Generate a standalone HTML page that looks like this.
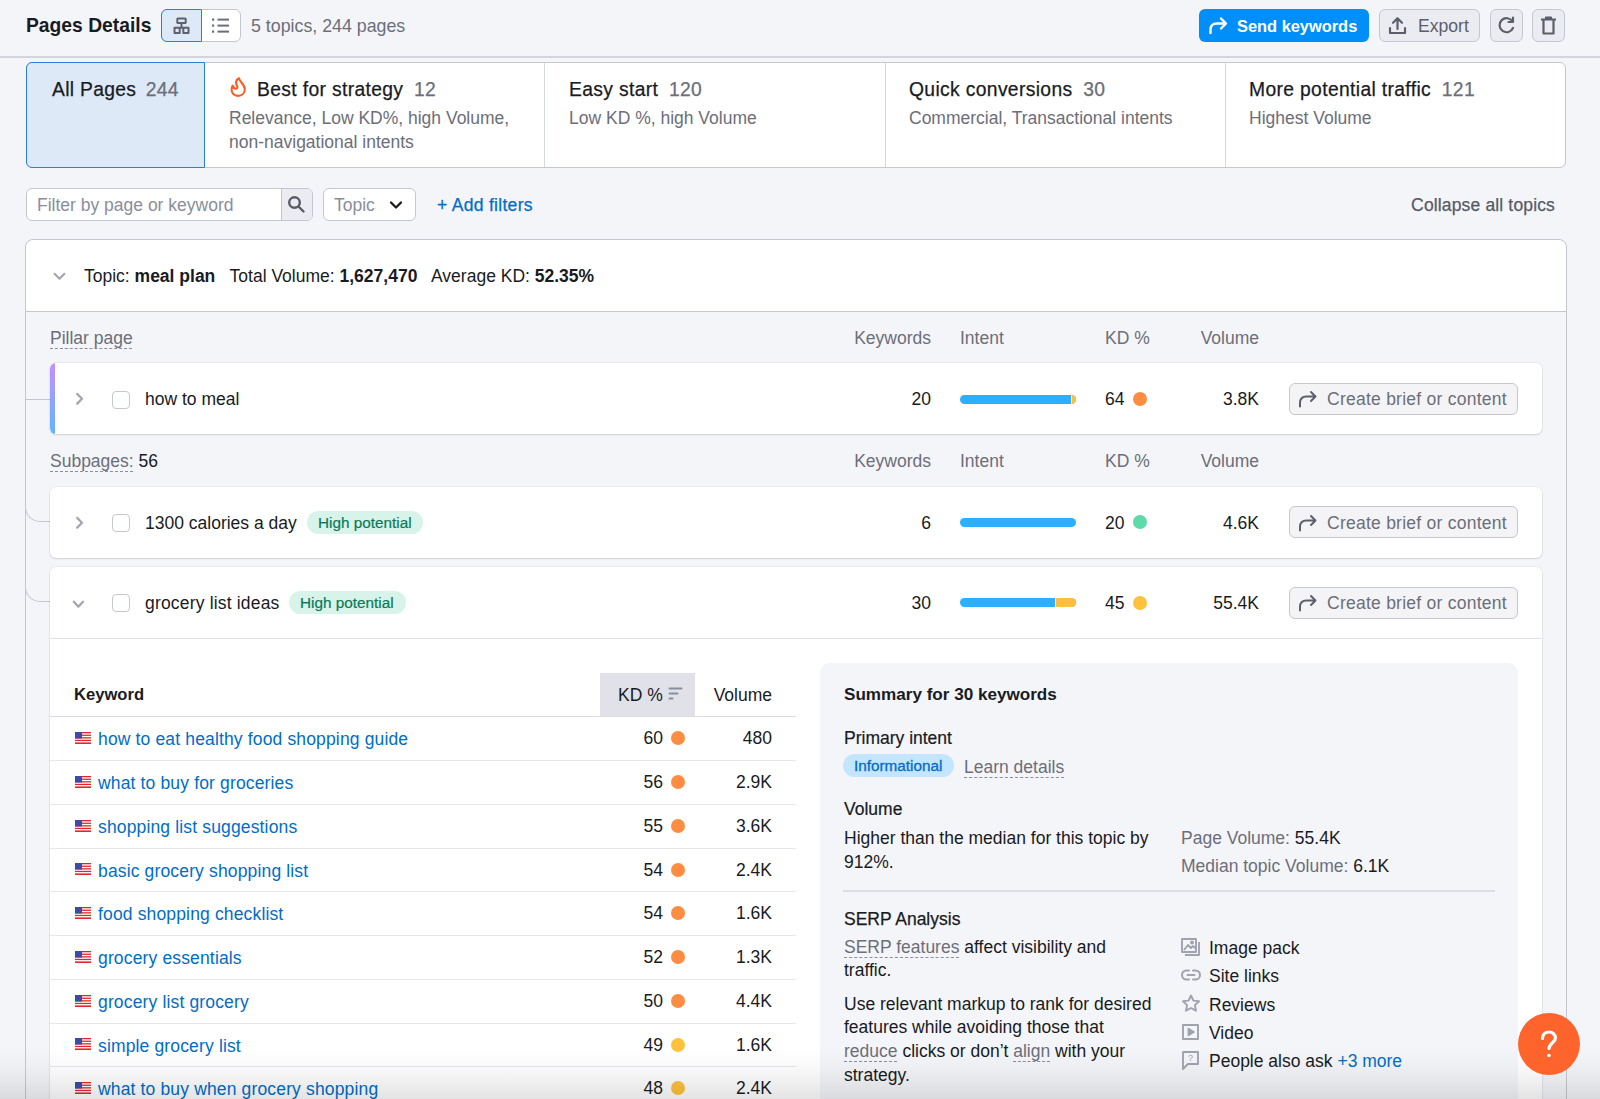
<!DOCTYPE html>
<html><head><meta charset="utf-8">
<style>
*{box-sizing:border-box;margin:0;padding:0}
html,body{width:1600px;height:1099px;overflow:hidden}
body{background:#f4f5f9;font-family:"Liberation Sans",sans-serif;color:#191b23;position:relative;font-size:17.5px}
.a{position:absolute}
.nw{white-space:nowrap}
.g{color:#6c6e79}
.b{font-weight:bold}
.med{-webkit-text-stroke:0.25px currentColor}
.btn{position:absolute;border:1px solid #c4c7cf;background:#ebecf1;border-radius:6px}
.dash{text-decoration:underline dashed #8a8e9b;text-underline-offset:4px;text-decoration-thickness:1px}
.card{position:absolute;left:50px;width:1492px;background:#fff;border-radius:6px;box-shadow:0 1px 2px rgba(25,27,35,.12),0 0 0 1px rgba(25,27,35,.04)}
.chk{position:absolute;width:18px;height:18px;border:1px solid #c4c7cf;border-radius:4px;background:#fff}
.num{position:absolute;text-align:right;white-space:nowrap}
.dot{position:absolute;width:14px;height:14px;border-radius:50%}
.cbtn{position:absolute;left:1289px;width:229px;height:32px;border:1px solid #c4c7cf;background:#f4f4f7;border-radius:6px;color:#6c6e79}
.hp{position:absolute;height:23px;border-radius:12px;background:#d7f3ea;color:#0b7a58;font-size:15.3px;line-height:23px;padding:0 0 0 11px;white-space:nowrap;-webkit-text-stroke:.2px #0b7a58}
.bar{position:absolute;left:960px;width:116px;height:9px;border-radius:5px;overflow:hidden;background:#2bb0ff}
.kw{position:absolute;left:98px;color:#006dca;white-space:nowrap;letter-spacing:.15px}
.flag{position:absolute;left:75px;width:16px;height:12px}.flag svg{display:block}
.rowline{position:absolute;left:50px;width:746px;height:1px;background:#e6e7ed}
</style></head>
<body>

<!-- HEADER -->
<div class="a nw b" style="left:26px;top:10px;font-size:19.3px;line-height:32px">Pages Details</div>

<div class="a" style="left:161px;top:9px;width:80px;height:33px;border:1px solid #c4c7cf;border-radius:6px;background:#fff"></div>
<div class="a" style="left:161px;top:9px;width:41px;height:33px;border:1px solid #2b7fd8;border-radius:6px 0 0 6px;background:#dee9f7"></div>

<div class="a nw g" style="left:251px;top:14px;font-size:17.8px;line-height:24px">5 topics, 244 pages</div>

<div class="a" style="left:1199px;top:9px;width:170px;height:33px;background:#008ff8;border-radius:6px"></div>
<div class="a nw b" style="left:1237px;top:14px;font-size:16.4px;line-height:24px;color:#fff">Send keywords</div>

<div class="btn" style="left:1379px;top:9px;width:101px;height:33px"></div>
<div class="a nw g" style="left:1418px;top:14px;font-size:17.6px;line-height:24px;color:#5c5f6b">Export</div>
<div class="btn" style="left:1490px;top:9px;width:33px;height:33px"></div>
<div class="btn" style="left:1532px;top:9px;width:33px;height:33px"></div>

<div class="a" style="left:0;top:56px;width:1600px;height:2px;background:#d3d4dc"></div>

<!-- TABS -->
<div class="a" style="left:26px;top:62px;width:1540px;height:106px;background:#fff;border:1px solid #c4c7cf;border-radius:6px"></div>
<div class="a" style="left:26px;top:62px;width:179px;height:106px;background:#dee9f7;border:1px solid #2b7fd8;border-radius:6px 0 0 6px"></div>
<div class="a" style="left:544px;top:63px;width:1px;height:104px;background:#d6d8df"></div>
<div class="a" style="left:885px;top:63px;width:1px;height:104px;background:#d6d8df"></div>
<div class="a" style="left:1225px;top:63px;width:1px;height:104px;background:#d6d8df"></div>

<div class="a nw med" style="left:52px;top:77px;font-size:19.3px;line-height:26px;letter-spacing:.3px">All Pages <span class="g" style="margin-left:4px">244</span></div>
<div class="a nw med" style="left:257px;top:77px;font-size:19.3px;line-height:26px;letter-spacing:.35px">Best for strategy <span class="g" style="margin-left:5px">12</span></div>
<div class="a g" style="left:229px;top:106px;font-size:17.5px;line-height:24px;width:300px">Relevance, Low KD%, high Volume, non-navigational intents</div>
<div class="a nw med" style="left:569px;top:77px;font-size:19.3px;line-height:26px;letter-spacing:.35px">Easy start <span class="g" style="margin-left:5px">120</span></div>
<div class="a nw g" style="left:569px;top:106px;font-size:17.5px;line-height:24px">Low KD %, high Volume</div>
<div class="a nw med" style="left:909px;top:77px;font-size:19.3px;line-height:26px;letter-spacing:.35px">Quick conversions <span class="g" style="margin-left:5px">30</span></div>
<div class="a nw g" style="left:909px;top:106px;font-size:17.5px;line-height:24px">Commercial, Transactional intents</div>
<div class="a nw med" style="left:1249px;top:77px;font-size:19.3px;line-height:26px;letter-spacing:.35px">More potential traffic <span class="g" style="margin-left:5px">121</span></div>
<div class="a nw g" style="left:1249px;top:106px;font-size:17.5px;line-height:24px">Highest Volume</div>

<!-- FILTERS -->
<div class="a" style="left:26px;top:188px;width:287px;height:33px;background:#fff;border:1px solid #c4c7cf;border-radius:6px;overflow:hidden">
  <div class="a" style="left:254px;top:0;width:33px;height:31px;background:#ebecf1;border-left:1px solid #c4c7cf"></div>
</div>
<div class="a nw" style="left:37px;top:193px;font-size:17.5px;line-height:24px;color:#8a8e9b">Filter by page or keyword</div>
<div class="a" style="left:323px;top:188px;width:93px;height:33px;background:#fff;border:1px solid #c4c7cf;border-radius:6px"></div>
<div class="a nw" style="left:334px;top:193px;font-size:17.5px;line-height:24px;color:#8a8e9b">Topic</div>
<div class="a nw med" style="left:437px;top:193px;font-size:17.5px;line-height:24px;color:#006dca;letter-spacing:.3px">+ Add filters</div>
<div class="a nw med" style="right:45px;top:193px;font-size:17.5px;line-height:24px;color:#575a66;letter-spacing:.15px">Collapse all topics</div>

<!-- TOPIC PANEL -->
<div class="a" style="left:25px;top:239px;width:1542px;height:900px;background:#f4f5f9;border:1px solid #c4c7cf;border-radius:8px"></div>
<div class="a" style="left:26px;top:240px;width:1540px;height:72px;background:#fff;border-bottom:1px solid #c4c7cf;border-radius:8px 8px 0 0"></div>
<div class="a nw" style="left:84px;top:264px;font-size:17.5px;line-height:24px">Topic: <b>meal plan</b>&nbsp;&nbsp; Total Volume: <b>1,627,470</b>&nbsp;&nbsp; Average KD: <b>52.35%</b></div>

<!-- PILLAR -->
<div class="a nw g" style="left:50px;top:326px;font-size:17.5px;line-height:24px"><span class="dash">Pillar page</span></div>
<div class="num g" style="right:669px;top:326px;line-height:24px">Keywords</div>
<div class="a nw g" style="left:960px;top:326px;line-height:24px">Intent</div>
<div class="a nw g" style="left:1105px;top:326px;line-height:24px">KD %</div>
<div class="num g" style="right:341px;top:326px;line-height:24px">Volume</div>

<div class="a" style="left:26px;top:399px;width:24px;height:1px;background:#c4c7cf"></div>
<div class="card" style="top:363px;height:71px;border-radius:6px;overflow:hidden">
  <div class="a" style="left:0;top:0;width:5px;height:71px;background:linear-gradient(#c490ff,#5fb4ff)"></div>
</div>
<div class="chk" style="left:112px;top:391px"></div>
<div class="a nw" style="left:145px;top:387px;line-height:24px">how to meal</div>
<div class="num" style="right:669px;top:387px;line-height:24px">20</div>
<div class="bar" style="top:395px"><div class="a" style="left:111px;top:0;width:5px;height:9px;background:#ffbf3d;border-left:1px solid #fff"></div></div>
<div class="a nw" style="left:1105px;top:387px;line-height:24px">64</div>
<div class="dot" style="left:1133px;top:392px;background:#ff8c43"></div>
<div class="num" style="right:341px;top:387px;line-height:24px">3.8K</div>
<div class="cbtn" style="top:383px"></div>
<div class="a nw" style="left:1327px;top:387px;line-height:24px;color:#6c6e79;letter-spacing:.25px">Create brief or content</div>

<!-- SUBPAGES -->
<div class="a nw" style="left:50px;top:449px;line-height:24px"><span class="dash g">Subpages:</span> 56</div>
<div class="num g" style="right:669px;top:449px;line-height:24px">Keywords</div>
<div class="a nw g" style="left:960px;top:449px;line-height:24px">Intent</div>
<div class="a nw g" style="left:1105px;top:449px;line-height:24px">KD %</div>
<div class="num g" style="right:341px;top:449px;line-height:24px">Volume</div>

<div class="a" style="left:25px;top:500px;width:25px;height:22px;border-left:1px solid #c4c7cf;border-bottom:1px solid #c4c7cf;border-bottom-left-radius:15px"></div>
<div class="a" style="left:25px;top:580px;width:25px;height:22px;border-left:1px solid #c4c7cf;border-bottom:1px solid #c4c7cf;border-bottom-left-radius:15px"></div>

<div class="card" style="top:487px;height:71px"></div>
<div class="chk" style="left:112px;top:514px"></div>
<div class="a nw" style="left:145px;top:511px;line-height:24px">1300 calories a day</div>
<div class="hp" style="left:307px;top:511px;width:116px">High potential</div>
<div class="num" style="right:669px;top:511px;line-height:24px">6</div>
<div class="bar" style="top:518px"></div>
<div class="a nw" style="left:1105px;top:511px;line-height:24px">20</div>
<div class="dot" style="left:1133px;top:515px;background:#5adba9"></div>
<div class="num" style="right:341px;top:511px;line-height:24px">4.6K</div>
<div class="cbtn" style="top:506px"></div>
<div class="a nw" style="left:1327px;top:511px;line-height:24px;color:#6c6e79;letter-spacing:.25px">Create brief or content</div>

<div class="card" style="top:567px;height:600px"></div>
<div class="a" style="left:50px;top:638px;width:1492px;height:1px;background:#e0e1e9"></div>
<div class="chk" style="left:112px;top:594px"></div>
<div class="a nw" style="left:145px;top:591px;line-height:24px;letter-spacing:.18px">grocery list ideas</div>
<div class="hp" style="left:289px;top:591px;width:117px">High potential</div>
<div class="num" style="right:669px;top:591px;line-height:24px">30</div>
<div class="bar" style="top:598px"><div class="a" style="left:95px;top:0;width:21px;height:9px;background:#ffbf3d;border-left:1px solid #fff"></div></div>
<div class="a nw" style="left:1105px;top:591px;line-height:24px">45</div>
<div class="dot" style="left:1133px;top:596px;background:#ffc23d"></div>
<div class="num" style="right:341px;top:591px;line-height:24px">55.4K</div>
<div class="cbtn" style="top:587px"></div>
<div class="a nw" style="left:1327px;top:591px;line-height:24px;color:#6c6e79;letter-spacing:.25px">Create brief or content</div>

<!-- KEYWORD TABLE -->
<div class="a" style="left:600px;top:673px;width:95px;height:43px;background:#e0e1e9"></div>
<div class="a nw b" style="left:74px;top:683px;font-size:16.6px;line-height:24px">Keyword</div>
<div class="a nw" style="left:618px;top:683px;line-height:24px">KD %</div>
<div class="num" style="right:828px;top:683px;line-height:24px">Volume</div>
<div class="rowline" style="top:715.5px;height:1.5px;background:#dcdde4"></div>
<div class="flag" style="top:732.00px"><svg width="16" height="12" viewBox="0 0 16 12"><rect width="16" height="12" fill="#fff"/><g fill="#e3262b"><rect y="0" width="16" height="1.3"/><rect y="2.6" width="16" height="1.3"/><rect y="5.2" width="16" height="1.3"/><rect y="7.8" width="16" height="1.3"/><rect y="10.4" width="16" height="1.6"/></g><rect width="7" height="6.5" fill="#3c4ba8"/></svg></div>
<div class="kw" style="top:727.25px;line-height:24px">how to eat healthy food shopping guide</div>
<div class="num" style="right:937px;top:726.25px;line-height:24px">60</div>
<div class="dot" style="left:671px;top:731.25px;background:#ff8c43"></div>
<div class="num" style="right:828px;top:726.25px;line-height:24px">480</div>
<div class="rowline" style="top:760.00px"></div>
<div class="flag" style="top:775.75px"><svg width="16" height="12" viewBox="0 0 16 12"><rect width="16" height="12" fill="#fff"/><g fill="#e3262b"><rect y="0" width="16" height="1.3"/><rect y="2.6" width="16" height="1.3"/><rect y="5.2" width="16" height="1.3"/><rect y="7.8" width="16" height="1.3"/><rect y="10.4" width="16" height="1.6"/></g><rect width="7" height="6.5" fill="#3c4ba8"/></svg></div>
<div class="kw" style="top:771px;line-height:24px">what to buy for groceries</div>
<div class="num" style="right:937px;top:770px;line-height:24px">56</div>
<div class="dot" style="left:671px;top:775.00px;background:#ff8c43"></div>
<div class="num" style="right:828px;top:770px;line-height:24px">2.9K</div>
<div class="rowline" style="top:803.75px"></div>
<div class="flag" style="top:819.50px"><svg width="16" height="12" viewBox="0 0 16 12"><rect width="16" height="12" fill="#fff"/><g fill="#e3262b"><rect y="0" width="16" height="1.3"/><rect y="2.6" width="16" height="1.3"/><rect y="5.2" width="16" height="1.3"/><rect y="7.8" width="16" height="1.3"/><rect y="10.4" width="16" height="1.6"/></g><rect width="7" height="6.5" fill="#3c4ba8"/></svg></div>
<div class="kw" style="top:814.75px;line-height:24px">shopping list suggestions</div>
<div class="num" style="right:937px;top:813.75px;line-height:24px">55</div>
<div class="dot" style="left:671px;top:818.75px;background:#ff8c43"></div>
<div class="num" style="right:828px;top:813.75px;line-height:24px">3.6K</div>
<div class="rowline" style="top:847.50px"></div>
<div class="flag" style="top:863.25px"><svg width="16" height="12" viewBox="0 0 16 12"><rect width="16" height="12" fill="#fff"/><g fill="#e3262b"><rect y="0" width="16" height="1.3"/><rect y="2.6" width="16" height="1.3"/><rect y="5.2" width="16" height="1.3"/><rect y="7.8" width="16" height="1.3"/><rect y="10.4" width="16" height="1.6"/></g><rect width="7" height="6.5" fill="#3c4ba8"/></svg></div>
<div class="kw" style="top:858.5px;line-height:24px">basic grocery shopping list</div>
<div class="num" style="right:937px;top:857.5px;line-height:24px">54</div>
<div class="dot" style="left:671px;top:862.50px;background:#ff8c43"></div>
<div class="num" style="right:828px;top:857.5px;line-height:24px">2.4K</div>
<div class="rowline" style="top:891.25px"></div>
<div class="flag" style="top:907.00px"><svg width="16" height="12" viewBox="0 0 16 12"><rect width="16" height="12" fill="#fff"/><g fill="#e3262b"><rect y="0" width="16" height="1.3"/><rect y="2.6" width="16" height="1.3"/><rect y="5.2" width="16" height="1.3"/><rect y="7.8" width="16" height="1.3"/><rect y="10.4" width="16" height="1.6"/></g><rect width="7" height="6.5" fill="#3c4ba8"/></svg></div>
<div class="kw" style="top:902.25px;line-height:24px">food shopping checklist</div>
<div class="num" style="right:937px;top:901.25px;line-height:24px">54</div>
<div class="dot" style="left:671px;top:906.25px;background:#ff8c43"></div>
<div class="num" style="right:828px;top:901.25px;line-height:24px">1.6K</div>
<div class="rowline" style="top:935.00px"></div>
<div class="flag" style="top:950.75px"><svg width="16" height="12" viewBox="0 0 16 12"><rect width="16" height="12" fill="#fff"/><g fill="#e3262b"><rect y="0" width="16" height="1.3"/><rect y="2.6" width="16" height="1.3"/><rect y="5.2" width="16" height="1.3"/><rect y="7.8" width="16" height="1.3"/><rect y="10.4" width="16" height="1.6"/></g><rect width="7" height="6.5" fill="#3c4ba8"/></svg></div>
<div class="kw" style="top:946px;line-height:24px">grocery essentials</div>
<div class="num" style="right:937px;top:945px;line-height:24px">52</div>
<div class="dot" style="left:671px;top:950.00px;background:#ff8c43"></div>
<div class="num" style="right:828px;top:945px;line-height:24px">1.3K</div>
<div class="rowline" style="top:978.75px"></div>
<div class="flag" style="top:994.50px"><svg width="16" height="12" viewBox="0 0 16 12"><rect width="16" height="12" fill="#fff"/><g fill="#e3262b"><rect y="0" width="16" height="1.3"/><rect y="2.6" width="16" height="1.3"/><rect y="5.2" width="16" height="1.3"/><rect y="7.8" width="16" height="1.3"/><rect y="10.4" width="16" height="1.6"/></g><rect width="7" height="6.5" fill="#3c4ba8"/></svg></div>
<div class="kw" style="top:989.75px;line-height:24px">grocery list grocery</div>
<div class="num" style="right:937px;top:988.75px;line-height:24px">50</div>
<div class="dot" style="left:671px;top:993.75px;background:#ff8c43"></div>
<div class="num" style="right:828px;top:988.75px;line-height:24px">4.4K</div>
<div class="rowline" style="top:1022.50px"></div>
<div class="flag" style="top:1038.25px"><svg width="16" height="12" viewBox="0 0 16 12"><rect width="16" height="12" fill="#fff"/><g fill="#e3262b"><rect y="0" width="16" height="1.3"/><rect y="2.6" width="16" height="1.3"/><rect y="5.2" width="16" height="1.3"/><rect y="7.8" width="16" height="1.3"/><rect y="10.4" width="16" height="1.6"/></g><rect width="7" height="6.5" fill="#3c4ba8"/></svg></div>
<div class="kw" style="top:1033.5px;line-height:24px">simple grocery list</div>
<div class="num" style="right:937px;top:1032.5px;line-height:24px">49</div>
<div class="dot" style="left:671px;top:1037.50px;background:#ffc23d"></div>
<div class="num" style="right:828px;top:1032.5px;line-height:24px">1.6K</div>
<div class="rowline" style="top:1066.25px"></div>
<div class="flag" style="top:1082.00px"><svg width="16" height="12" viewBox="0 0 16 12"><rect width="16" height="12" fill="#fff"/><g fill="#e3262b"><rect y="0" width="16" height="1.3"/><rect y="2.6" width="16" height="1.3"/><rect y="5.2" width="16" height="1.3"/><rect y="7.8" width="16" height="1.3"/><rect y="10.4" width="16" height="1.6"/></g><rect width="7" height="6.5" fill="#3c4ba8"/></svg></div>
<div class="kw" style="top:1077.25px;line-height:24px">what to buy when grocery shopping</div>
<div class="num" style="right:937px;top:1076.25px;line-height:24px">48</div>
<div class="dot" style="left:671px;top:1081.25px;background:#ffc23d"></div>
<div class="num" style="right:828px;top:1076.25px;line-height:24px">2.4K</div>
<!-- SUMMARY -->
<div class="a" style="left:820px;top:663px;width:698px;height:500px;background:#f4f5f9;border-radius:10px"></div>
<div class="a nw b" style="left:844px;top:683px;font-size:17.1px;line-height:24px">Summary for 30 keywords</div>
<div class="a nw" style="left:844px;top:726px;line-height:24px;-webkit-text-stroke:.2px #191b23">Primary intent</div>
<div class="a nw" style="left:843px;top:754px;width:111px;height:23px;border-radius:12px;background:#c4e5fe;color:#006dca;font-size:15.3px;line-height:23px;padding-left:11px;-webkit-text-stroke:.3px #006dca">Informational</div>
<div class="a nw g" style="left:964px;top:755px;line-height:24px"><span class="dash">Learn details</span></div>
<div class="a nw" style="left:844px;top:797px;line-height:24px;-webkit-text-stroke:.2px #191b23">Volume</div>
<div class="a nw" style="left:844px;top:826px;line-height:24px">Higher than the median for this topic by<br>912%.</div>
<div class="a nw" style="left:1181px;top:826px;line-height:24px"><span class="g">Page Volume:</span> 55.4K</div>
<div class="a nw" style="left:1181px;top:854px;line-height:24px"><span class="g">Median topic Volume:</span> 6.1K</div>
<div class="a" style="left:843px;top:890px;width:652px;height:2px;background:#dcdde4"></div>
<div class="a nw" style="left:844px;top:907px;line-height:24px;-webkit-text-stroke:.25px #191b23">SERP Analysis</div>
<div class="a nw" style="left:844px;top:935.6px;line-height:23.8px"><span class="dash g">SERP features</span> affect visibility and<br>traffic.</div>
<div class="a nw" style="left:844px;top:992.6px;line-height:23.7px">Use relevant markup to rank for desired<br>features while avoiding those that<br><span class="dash g">reduce</span> clicks or don’t <span class="dash g">align</span> with your<br>strategy.</div>
<div class="a nw" style="left:1209px;top:936px;line-height:24px">Image pack</div>
<div class="a nw" style="left:1209px;top:964px;line-height:24px">Site links</div>
<div class="a nw" style="left:1209px;top:993px;line-height:24px">Reviews</div>
<div class="a nw" style="left:1209px;top:1021px;line-height:24px">Video</div>
<div class="a nw" style="left:1209px;top:1049px;line-height:24px">People also ask <span style="color:#006dca">+3 more</span></div>

<!-- ICONS -->
<svg class="a" style="left:45px;top:262px" width="30" height="28" viewBox="0 0 30 28" fill="none" stroke="#a4a7b3" stroke-width="2.2" stroke-linecap="round" stroke-linejoin="round"><path d="M9.6 11.8L14.5 16.8L19.4 11.8"/></svg>
<svg class="a" style="left:65px;top:385px" width="30" height="28" viewBox="0 0 30 28" fill="none" stroke="#a4a7b3" stroke-width="2.3" stroke-linecap="round" stroke-linejoin="round"><path d="M12.2 8.9L17 13.7L12.2 18.6"/></svg>
<svg class="a" style="left:65px;top:508.5px" width="30" height="28" viewBox="0 0 30 28" fill="none" stroke="#a4a7b3" stroke-width="2.3" stroke-linecap="round" stroke-linejoin="round"><path d="M12.2 8.9L17 13.7L12.2 18.6"/></svg>
<svg class="a" style="left:63px;top:588px" width="30" height="28" viewBox="0 0 30 28" fill="none" stroke="#a4a7b3" stroke-width="2.3" stroke-linecap="round" stroke-linejoin="round"><path d="M10.8 13.8L15.4 18.6L20 13.8"/></svg>
<svg class="a" style="left:173px;top:17px" width="18" height="18" viewBox="0 0 18 18" fill="none" stroke="#5f616c" stroke-width="2" stroke-linejoin="round"><rect x="4.3" y="1.5" width="8.4" height="4.6" rx=".6"/><path d="M8.5 6V10.8"/><path d="M1.5 10.8H15.5V16H10.3V10.8M6.7 10.8V16H1.5V10.8Z"/></svg>
<svg class="a" style="left:212px;top:18px" width="18" height="16" viewBox="0 0 18 16" fill="#6c6e79"><rect x="0" y="0.5" width="2.2" height="2.2"/><rect x="0" y="6.5" width="2.2" height="2.2"/><rect x="0" y="12.5" width="2.2" height="2.2"/><rect x="5.5" y="0.6" width="11.5" height="2"/><rect x="5.5" y="6.6" width="11.5" height="2"/><rect x="5.5" y="12.6" width="11.5" height="2"/></svg>
<svg class="a" style="left:1208px;top:16px" width="21" height="19" viewBox="0 0 21 19" fill="none" stroke="#fff" stroke-width="2.4" stroke-linecap="round" stroke-linejoin="round"><path d="M2.5 17V14Q2.5 7.5 9 7.5H17.5M13 2.5L18 7.5L13 12.5"/></svg>
<svg class="a" style="left:1388px;top:16px" width="19" height="19" viewBox="0 0 19 19" fill="none" stroke="#5c5f6b" stroke-width="2.2" stroke-linecap="round" stroke-linejoin="round"><path d="M9.5 13V2.5M5 6.8L9.5 2.3L14 6.8M2 12V17H17V12"/></svg>
<svg class="a" style="left:1497px;top:16px" width="19" height="19" viewBox="0 0 19 19" fill="none" stroke="#5c5f6b" stroke-width="2.2" stroke-linecap="round" stroke-linejoin="round"><path d="M15.5 5.5A7 7 0 1 0 16 12"/><path d="M16 1.5V6H11.5" fill="none"/></svg>
<svg class="a" style="left:1540px;top:16px" width="17" height="19" viewBox="0 0 17 19" fill="none" stroke="#5c5f6b" stroke-width="2.2" stroke-linejoin="round"><path d="M1 3.5H16M6 3.5V1.5H11V3.5M3.5 3.5V17.5H13.5V3.5"/></svg>
<svg class="a" style="left:224px;top:72px" width="30" height="30" viewBox="0 0 30 30" fill="none" stroke="#ff5a1f" stroke-width="2.1" stroke-linejoin="round" stroke-linecap="round"><path d="M14.9 6.2C15.3 9.8 20.8 12 20.8 17.2C20.8 21.2 17.9 23.9 13.9 23.9C10.1 23.9 7.5 21.1 7.6 17.6C7.6 16 8.1 14.6 8.7 13.6C9.2 15.6 10.4 16.8 11.8 16.8C13.4 16.8 13.8 15.2 12.9 13.6C11.7 11.3 11.3 8 14.9 6.2Z"/></svg>
<svg class="a" style="left:287px;top:195px" width="19" height="19" viewBox="0 0 19 19" fill="none" stroke="#585b66" stroke-width="2.4" stroke-linecap="round"><circle cx="7.5" cy="7.5" r="5.3"/><path d="M11.5 11.5L16.5 16.5"/></svg>
<svg class="a" style="left:389px;top:200px" width="14" height="10" viewBox="0 0 14 10" fill="none" stroke="#191b23" stroke-width="2.3" stroke-linecap="round" stroke-linejoin="round"><path d="M2 2.5L7 7.5L12 2.5"/></svg>




<svg class="a" style="left:1297px;top:389px" width="22" height="19" viewBox="0 0 22 19" fill="none" stroke="#5d606c" stroke-width="2" stroke-linecap="round" stroke-linejoin="round"><path d="M3 17.5V14Q3 7.5 9.5 7.5H18.5M14 3L18.5 7.5L14 12"/></svg>
<svg class="a" style="left:1297px;top:513px" width="22" height="19" viewBox="0 0 22 19" fill="none" stroke="#5d606c" stroke-width="2" stroke-linecap="round" stroke-linejoin="round"><path d="M3 17.5V14Q3 7.5 9.5 7.5H18.5M14 3L18.5 7.5L14 12"/></svg>
<svg class="a" style="left:1297px;top:593px" width="22" height="19" viewBox="0 0 22 19" fill="none" stroke="#5d606c" stroke-width="2" stroke-linecap="round" stroke-linejoin="round"><path d="M3 17.5V14Q3 7.5 9.5 7.5H18.5M14 3L18.5 7.5L14 12"/></svg>
<svg class="a" style="left:668px;top:687px" width="15" height="13" viewBox="0 0 15 13" fill="#8a8e9b"><rect x="0.5" y="0.5" width="14" height="2" rx="1"/><rect x="0.5" y="5.5" width="10" height="2" rx="1"/><rect x="0.5" y="10.5" width="5" height="2" rx="1"/></svg>
<svg class="a" style="left:1181px;top:938px" width="19" height="18" viewBox="0 0 19 18" fill="none" stroke="#a0a3ae" stroke-width="1.9" stroke-linejoin="round"><rect x="1" y="1" width="14" height="13"/><path d="M4 17H18V4"/><path d="M3 12L7 7L10 10L12 8L14 10" /><circle cx="11" cy="4.5" r="1"/></svg>
<svg class="a" style="left:1181px;top:967px" width="20" height="16" viewBox="0 0 20 16" fill="none" stroke="#a0a3ae" stroke-width="2" stroke-linecap="round"><path d="M8 3.5H5.5A4.5 4.5 0 0 0 5.5 12.5H8M12 3.5H14.5A4.5 4.5 0 0 1 14.5 12.5H12M6.5 8H13.5"/></svg>
<svg class="a" style="left:1181px;top:994px" width="20" height="19" viewBox="0 0 20 19" fill="none" stroke="#a0a3ae" stroke-width="1.9" stroke-linejoin="round"><path d="M10 1.5L12.4 6.6L18 7.3L13.9 11.1L15 16.7L10 14L5 16.7L6.1 11.1L2 7.3L7.6 6.6Z"/></svg>
<svg class="a" style="left:1182px;top:1024px" width="18" height="17" viewBox="0 0 18 17" fill="none" stroke="#a0a3ae" stroke-width="1.9" stroke-linejoin="round"><rect x="1" y="1" width="15" height="14"/><path d="M6.5 4.8V11.2L11.8 8Z" fill="#a0a3ae"/></svg>
<svg class="a" style="left:1182px;top:1051px" width="18" height="20" viewBox="0 0 18 20" fill="none" stroke="#a0a3ae" stroke-width="1.9" stroke-linejoin="round"><path d="M1 1H16V13H6L1 18Z"/><text x="8.5" y="10" font-size="9" font-family="Liberation Sans" fill="#a0a3ae" stroke="none" text-anchor="middle">?</text></svg>

<!-- HELP + FADE -->
<div class="a" style="left:0;top:1048px;width:1600px;height:51px;background:linear-gradient(rgba(0,0,0,0) 0%,rgba(0,0,0,.025) 35%,rgba(0,0,0,.055) 63%,rgba(0,0,0,.11) 100%)"></div>
<div class="a" style="left:1518px;top:1013px;width:62px;height:62px;border-radius:50%;background:#ff642d"></div>
<svg class="a" style="left:1518px;top:1013px" width="62" height="62" viewBox="0 0 62 62" fill="none" stroke="#fff" stroke-width="3.2" stroke-linecap="round"><path d="M24.5 25.5C24.5 21.5 27.5 19 31 19C34.5 19 37.5 21.5 37.5 25C37.5 29.5 31 30 31 35.5"/><circle cx="31" cy="42.5" r="1.8" fill="#fff" stroke="none"/></svg>

</body></html>
